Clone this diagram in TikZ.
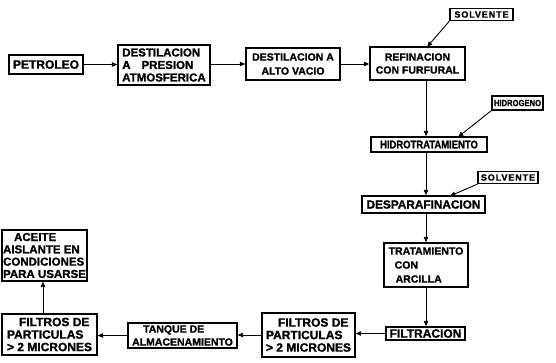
\documentclass[tikz,border=0pt]{standalone}
\usepackage{fontspec}
\setmainfont{Liberation Sans}[BoldFeatures={FakeBold=1.3}]
\usetikzlibrary{arrows.meta}
\begin{document}
\begin{tikzpicture}[x=1pt,y=-1pt,
  box/.style={draw, line width=1.3pt, inner sep=0pt, align=center},
  lbox/.style={draw, line width=1.3pt, inner sep=0pt, align=left},
  fz/.style 2 args={font=\bfseries\fontsize{#1}{#2}\selectfont},
  arr/.style={line width=0.9pt, -{Triangle[length=5.5pt,width=4.5pt]}}]
\useasboundingbox (0,0) rectangle (556,362);
% nodes
\node[box, fz={12}{12}, minimum width=74pt, minimum height=19pt] (pet) at (46,64.5) {PETROLEO};
\node[lbox, fz={11.5}{12.5}, minimum width=92pt, minimum height=40pt] (dest1) at (164,65) {DESTILACION\\A\hspace{11pt}PRESION\\ATMOSFERICA};
\node[box, fz={10.5}{14}, minimum width=94pt, minimum height=32pt] (dest2) at (293,64) {DESTILACION A\\ALTO VACIO};
\node[box, fz={10.5}{13}, minimum width=95pt, minimum height=33pt] (ref) at (417.5,63.5) {REFINACION\\CON FURFURAL};
\node[box, fz={9}{9}, minimum width=63pt, minimum height=12pt] (solv1) at (481.5,14.5) {\addfontfeature{LetterSpace=10}SOLVENTE};
\node[box, fz={9}{9}, minimum width=51pt, minimum height=14pt] (hid) at (517.5,103) {\addfontfeature{FakeStretch=0.85}HIDROGENO};
\node[box, fz={11}{11}, minimum width=116pt, minimum height=15pt] (hidro) at (429,144.5) {\addfontfeature{FakeStretch=0.86}HIDROTRATAMIENTO};
\node[box, fz={9}{9}, minimum width=60pt, minimum height=12pt] (solv2) at (508,177.5) {\addfontfeature{LetterSpace=10}SOLVENTE};
\node[box, fz={11.8}{11.8}, minimum width=123pt, minimum height=17pt] (desp) at (423.5,204.5) {DESPARAFINACION};
\node[lbox, fz={10.5}{14}, minimum width=84pt, minimum height=44pt] (trat) at (426,265) {TRATAMIENTO\\\hspace{6pt}CON\\\hspace{7pt}ARCILLA};
\node[box, fz={12}{12}, minimum width=79pt, minimum height=13pt] (filtr) at (425.5,333.5) {FILTRACION};
\node[lbox, fz={12}{12.5}, minimum width=93pt, minimum height=44pt] (filt2) at (308.5,335) {\hspace{12pt}FILTROS DE\\PARTICULAS\\> 2 MICRONES};
\node[lbox, fz={10.5}{13}, minimum width=109pt, minimum height=25pt] (tanq) at (182.5,335.5) {\hspace{11pt}TANQUE DE\\ALMACENAMIENTO};
\node[lbox, fz={12}{12.5}, minimum width=95pt, minimum height=41pt] (filt1) at (49.5,334.5) {\hspace{12pt}FILTROS DE\\PARTICULAS\\> 2 MICRONES};
\node[lbox, fz={11.5}{12.3}, minimum width=85pt, minimum height=51pt] (aceite) at (44.5,255.5) {\hspace{11pt}ACEITE\\AISLANTE EN\\CONDICIONES\\PARA USARSE};
% helper coordinates
\coordinate (vx) at (426,0);
\coordinate (ax) at (43,0);
\coordinate (s1end) at (427,47);
\coordinate (hend) at (458,137);
\coordinate (s2end) at (450,196);
% connectors
\draw[arr] (pet.east) -- (dest1.west |- pet.east);
\draw[arr] (dest1.east |- dest2.west) -- (dest2.west);
\draw[arr] (dest2.east) -- (ref.west |- dest2.east);
\draw[arr] (solv1.south west) -- (s1end);
\draw[arr] (ref.south -| vx) -- (hidro.north -| vx);
\draw[arr] (hid.south west) -- (hend);
\draw[arr] (hidro.south -| vx) -- (desp.north -| vx);
\draw[arr] (solv2.south west) -- (s2end);
\draw[arr] (desp.south -| vx) -- (trat.north -| vx);
\draw[arr] (trat.south -| vx) -- (filtr.north -| vx);
\draw[arr] (filtr.west) -- (filt2.east |- filtr.west);
\draw[arr] (filt2.west) -- (tanq.east |- filt2.west);
\draw[arr] (tanq.west) -- (filt1.east |- tanq.west);
\draw[arr] (filt1.north -| ax) -- (aceite.south -| ax);
\end{tikzpicture}
\end{document}
